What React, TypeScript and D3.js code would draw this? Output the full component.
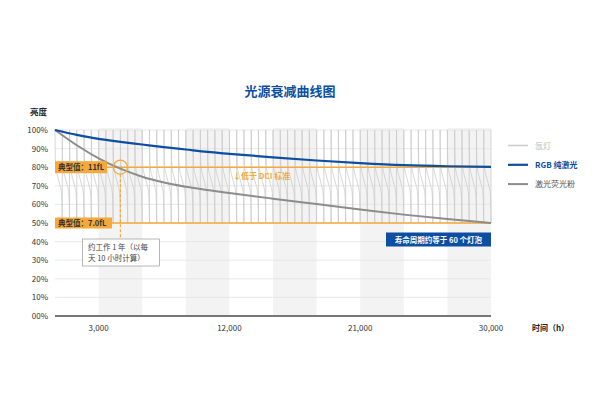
import React from 'react';
import * as d3 from 'd3';

// hours / brightness (%)
const hours = [0, 1500, 3000, 4500, 6000, 7500, 9000, 10500, 12000, 15000, 18000, 21000, 24000, 27000, 30000];
const rgbLaser = [100, 97.4, 95.2, 93.6, 92.2, 90.8, 89.5, 88.2, 87.2, 85.3, 83.6, 82.2, 81.1, 80.5, 80.2];
const phosphor = [100, 91.8, 84.8, 79.2, 74.9, 71.8, 69.5, 67.7, 66.1, 63.1, 60.2, 57.3, 54.5, 52.1, 50];

// one xenon lamp: share of its life / brightness
const lampLifeShare = [0, 0.03, 0.1, 0.3, 0.5, 0.7, 0.9, 0.97, 1];
const lampLevel = [100, 88, 80, 76, 73, 70, 66, 58, 50];
const lampCount = 60;
const lampLife = 500;

const yTicks = [0, 10, 20, 30, 40, 50, 60, 70, 80, 90, 100];
const yTickLabels = ['00%', '10%', '20%', '30%', '40%', '50%', '60%', '70%', '80%', '90%', '100%'];
const xTicks = [3000, 12000, 21000, 30000];
const bands = [[3000, 6000], [9000, 12000], [15000, 18000], [21000, 24000], [27000, 30000]];

const typical = [{ v: 80, label: '典型值：11fL' }, { v: 50, label: '典型值：7.0fL' }];
const oneYearHours = 4500;

const BLUE = '#0b4ea2';
const GRAY = '#8c8c8c';
const LIGHT = '#cbcbcb';
const ORANGE = '#f4a93a';
const FONT = '"Noto Sans CJK SC", "Noto Sans", sans-serif';

export default function App() {
  const x = d3.scaleLinear().domain([0, 30000]).range([55, 491]);
  const y = d3.scaleLinear().domain([0, 100]).range([316, 130]);

  const line = d3
    .line<number>()
    .x((_, i) => x(hours[i]))
    .y(d => y(d))
    .curve(d3.curveMonotoneX);

  const lampLine = d3
    .line<number>()
    .x((_, i) => x(lampLifeShare[i] * lampLife) - x(0))
    .y(d => y(d))
    .curve(d3.curveMonotoneX);
  const lampPath = lampLine(lampLevel) + `L${x(lampLife) - x(0)},${y(100)}`;

  const cx = x(oneYearHours);
  const cy = y(80);

  return (
    <svg width={600} height={417} style={{ position: 'absolute', left: 0, top: 0, background: '#fff' }} fontFamily={FONT}>
      <text x={290} y={96} textAnchor="middle" fontSize={13} fontWeight="bold" fill={BLUE}>光源衰减曲线图</text>

      {bands.map(([a, b]) => (
        <rect key={a} x={x(a)} y={y(100) - 2} width={x(b) - x(a)} height={y(0) - y(100) + 2} fill="#f3f3f3" />
      ))}

      {yTicks.filter(t => t > 0).map(t => (
        <line key={t} x1={x(0)} x2={x(30000)} y1={y(t)} y2={y(t)} stroke="#e2e2e2" strokeWidth={0.8} />
      ))}

      {d3.range(lampCount).map(i => (
        <path key={i} d={lampPath} transform={`translate(${x(i * lampLife)},0)`} fill="none" stroke={LIGHT} strokeWidth={0.8} />
      ))}

      {typical.map(t => (
        <line key={t.v} x1={x(0)} x2={x(30000)} y1={y(t.v)} y2={y(t.v)} stroke={ORANGE} strokeWidth={1.5} />
      ))}

      <path d={line(phosphor) ?? ''} fill="none" stroke={GRAY} strokeWidth={2} />
      <path d={line(rgbLaser) ?? ''} fill="none" stroke={BLUE} strokeWidth={2.2} />

      <line x1={x(0)} x2={x(30000)} y1={y(0)} y2={y(0)} stroke="#777" strokeWidth={2} />

      {yTicks.map((t, i) => (
        <text key={t} x={48} y={y(t) + 3} textAnchor="end" fontSize={8} fill="#333">{yTickLabels[i]}</text>
      ))}
      <text x={47} y={115} textAnchor="end" fontSize={8.5} fontWeight="bold" fill="#222">亮度</text>

      {xTicks.map(t => (
        <text key={t} x={x(t)} y={331} textAnchor="middle" fontSize={8} fill="#333">{d3.format(',')(t)}</text>
      ))}
      <text x={532} y={331} fontSize={8} fontWeight="bold" fill="#222">时间（h）</text>

      {/* typical value labels */}
      <rect x={x(0)} y={y(80) - 6} width={52} height={12} fill={ORANGE} />
      <text x={x(0) + 3} y={y(80) + 3} fontSize={7.5} fontWeight="bold" fill="#333">{typical[0].label}</text>
      <rect x={x(0)} y={y(50) - 5.5} width={57} height={11} fill={ORANGE} />
      <text x={x(0) + 3} y={y(50) + 3} fontSize={7.5} fontWeight="bold" fill="#333">{typical[1].label}</text>

      <text x={233} y={179} fontSize={8} fontWeight="bold" fill={ORANGE}>↓低于 DCI 标准</text>

      {/* one year marker */}
      <circle cx={cx} cy={cy} r={7} fill="none" stroke={ORANGE} strokeWidth={1.3} />
      <line x1={cx} x2={cx} y1={cy + 7} y2={239} stroke={ORANGE} strokeWidth={1.2} strokeDasharray="3,2" />
      <rect x={82.5} y={239} width={77} height={27} fill="#fff" stroke="#999" strokeWidth={0.7} />
      <text x={88} y={250} fontSize={7.5} fill="#444">约工作 1 年（以每</text>
      <text x={88} y={261} fontSize={7.5} fill="#444">天 10 小时计算）</text>

      <rect x={386} y={232.5} width={105} height={14} fill={BLUE} />
      <text x={438.5} y={242.5} textAnchor="middle" fontSize={7.5} fontWeight="bold" fill="#fff">寿命周期约等于 60 个灯泡</text>

      {/* legend */}
      {[
        { label: '氙灯', color: LIGHT, text: '#bbb', bold: false, w: 1.5 },
        { label: 'RGB 纯激光', color: BLUE, text: BLUE, bold: true, w: 2.2 },
        { label: '激光荧光粉', color: GRAY, text: '#555', bold: false, w: 2 },
      ].map((d, i) => (
        <g key={d.label} transform={`translate(0,${145.5 + i * 19.3})`}>
          <line x1={508} x2={528} y1={0} y2={0} stroke={d.color} strokeWidth={d.w} />
          <text x={535} y={3} fontSize={8} fontWeight={d.bold ? 'bold' : 'normal'} fill={d.text}>{d.label}</text>
        </g>
      ))}
    </svg>
  );
}
